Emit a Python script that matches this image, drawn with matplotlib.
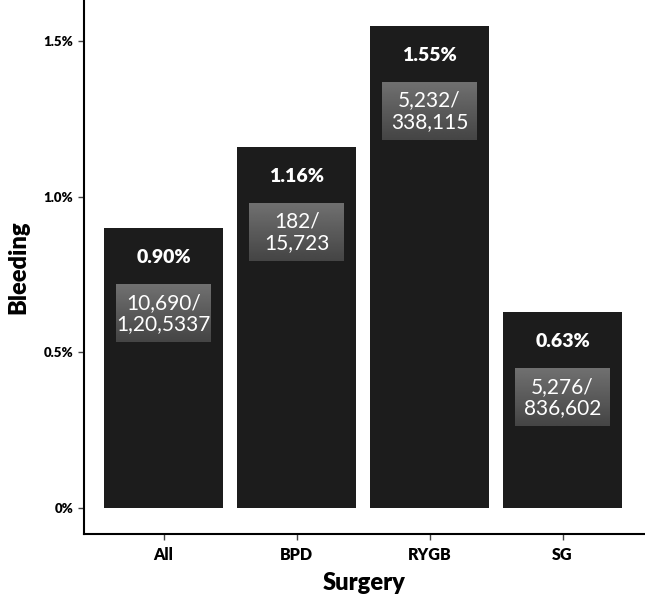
import numpy as np
import matplotlib.pyplot as plt

plt.rcParams['font.family'] = ['Lato', 'DejaVu Sans']

# data
surgery = ["All", "BPD", "RYGB", "SG"]
bleeding = [0.90, 1.16, 1.55, 0.63]
pct_labels = ["0.90%", "1.16%", "1.55%", "0.63%"]
count_labels = ["10,690/\n1,20,5337", "182/\n15,723", "5,232/\n338,115", "5,276/\n836,602"]
yticks = [0, 0.5, 1.0, 1.5]
ytick_labels = ["0%", "0.5%", "1.0%", "1.5%"]

fig = plt.figure(figsize=(6.45, 5.94), dpi=100)
ax = fig.add_axes([0.130, 0.101, 0.868, 0.899])

x = np.arange(len(surgery))
ax.bar(x, bleeding, width=0.9, color="#1c1c1c", zorder=1)

# vertical gradient for the count boxes, lighter on top
grad = np.linspace(0.44, 0.27, 64).reshape(-1, 1)
for i, v in enumerate(bleeding):
    ax.text(x[i], v - 0.095, pct_labels[i], color="white", fontsize=14,
            fontweight="heavy", ha="center", va="center", zorder=3)
    top = v - 0.182
    bot = top - 0.186
    ax.imshow(grad, cmap="gray", vmin=0, vmax=1, aspect="auto",
              extent=[x[i] - 0.355, x[i] + 0.355, bot, top], zorder=2)
    ax.text(x[i], (top + bot) / 2, count_labels[i], color="white", fontsize=15,
            ha="center", va="center", linespacing=1.1, zorder=3)

ax.set_xlim(-0.6, 3.61)
ax.set_ylim(-0.0835, 1.632)
ax.set_xticks(x)
ax.set_xticklabels(surgery, fontsize=11.5, fontweight="heavy")
ax.set_yticks(yticks)
ax.set_yticklabels(ytick_labels, fontsize=9.5, fontweight="heavy")
ax.tick_params(length=4, width=1, color="#444444")
ax.tick_params(axis="x", pad=5)
ax.set_xlabel("Surgery", fontsize=17, fontweight="heavy", labelpad=7)
ax.set_ylabel("Bleeding", fontsize=17, fontweight="heavy", labelpad=10)

for s in ["top", "right"]:
    ax.spines[s].set_visible(False)
for s in ["left", "bottom"]:
    ax.spines[s].set_linewidth(1.5)

fig.savefig("out.png", dpi=100)
